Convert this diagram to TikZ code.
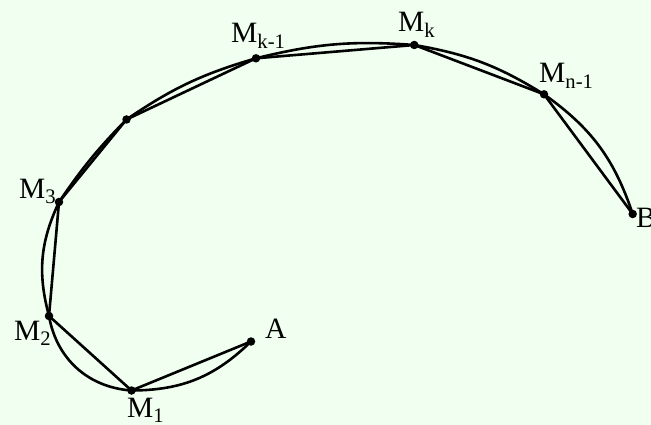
\documentclass[tikz,border=0pt]{standalone}
\usepackage{fontspec}
\setmainfont{Liberation Serif}
\begin{document}
\begin{tikzpicture}[x=1pt,y=-1pt,
  lab/.style={font=\fontsize{29.5}{31}\selectfont, inner sep=0pt},
  dot/.style={circle, fill=black, inner sep=0pt, minimum size=8.5pt},
  line/.style={line width=2.6pt, line join=round, line cap=round}]
\fill[fill={rgb,255:red,240;green,255;blue,240}] (0,0) rectangle (651,425);
\useasboundingbox (0,0) rectangle (651,425);
\coordinate (A) at (251,341.5);
\coordinate (M1) at (131.5,390.5);
\coordinate (M2) at (49,316);
\coordinate (M3) at (59,202);
\coordinate (P) at (126.5,119.5);
\coordinate (Mk1) at (256,58.3);
\coordinate (Mk) at (414.3,45);
\coordinate (Mn1) at (544,94.3);
\coordinate (B) at (632.7,214);
\draw[line] (A) to[bend left=22] (M1) to[bend left=38] (M2) to[bend left=20] (M3)
  to[bend left=5] (P) to[bend left=9] (Mk1) to[bend left=9] (Mk)
  to[bend left=11] (Mn1) to[bend left=18] (B);
\draw[line] (A) -- (M1) -- (M2) -- (M3) -- (P) -- (Mk1) -- (Mk) -- (Mn1) -- (B);
\foreach \p in {A,M1,M2,M3,P,Mk1,Mk,Mn1,B} \node[dot] at (\p) {};
\node[lab, anchor=base west] (lA) at (265,338) {A};
\node[lab, anchor=base west] (lM1) at (127,417) {M\textsubscript{1}};
\node[lab, anchor=base west] (lM2) at (14,340) {M\textsubscript{2}};
\node[lab, anchor=base west] (lM3) at (19,198) {M\textsubscript{3}};
\node[lab, anchor=base west] (lMk1) at (231,43) {M\textsubscript{k-1}};
\node[lab, anchor=base west] (lMk) at (398,32) {M\textsubscript{k}};
\node[lab, anchor=base west] (lMn1) at (539,83) {M\textsubscript{n-1}};
\node[lab, anchor=base west] (lB) at (636,227) {B};
\end{tikzpicture}
\end{document}
